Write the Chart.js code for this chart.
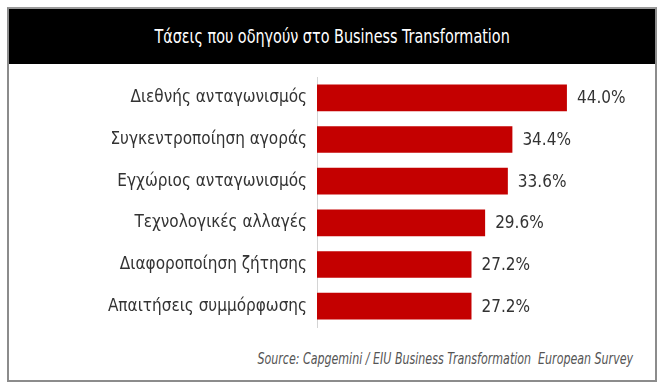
<!DOCTYPE html>
<html>
<head>
<meta charset="utf-8">
<script src="https://cdn.jsdelivr.net/npm/chart.js@4"></script>
<style>
    body { margin: 0; background: #fff; }
    #wrap { position: relative; width: 667px; height: 388px; }
    #frame {
        position: absolute; left: 7px; top: 7px; width: 650px; height: 375px;
        box-sizing: border-box; border: 2px solid #8c8c8c; border-top-color: #9a9a9a;
    }
    #header {
        position: absolute; left: 0; top: 0; right: 0; height: 55px;
        background: #000; color: #fff;
        font: 20px "DejaVu Sans Condensed", sans-serif;
        text-align: center; line-height: 55px;
    }
    #header span { display: inline-block; transform: scaleX(0.8); }
    #source {
        position: absolute; right: 22px; bottom: 12px;
        font: italic 15px "DejaVu Sans Condensed", sans-serif;
        color: #555; white-space: pre;
        transform: scaleX(0.82); transform-origin: right center;
    }
    #chart { position: absolute; left: 0; top: 0; }
</style>
</head>
<body>
<div id="wrap">
    <div id="frame">
        <div id="header"><span>Τάσεις που οδηγούν στο Business Transformation</span></div>
        <div id="source">Source: Capgemini / EIU Business Transformation  European Survey</div>
    </div>
    <canvas id="chart" width="667" height="388"></canvas>
</div>
<script>
// chart data
const categories = [
    'Διεθνής ανταγωνισμός',
    'Συγκεντροποίηση αγοράς',
    'Εγχώριος ανταγωνισμός',
    'Τεχνολογικές αλλαγές',
    'Διαφοροποίηση ζήτησης',
    'Απαιτήσεις συμμόρφωσης'
];
const values = [44.0, 34.4, 33.6, 29.6, 27.2, 27.2];

const FONT = '"DejaVu Sans Condensed", sans-serif';

// draws the percentage next to each bar
const valueLabels = {
    id: 'valueLabels',
    afterDatasetsDraw(chart) {
        const ctx = chart.ctx;
        const meta = chart.getDatasetMeta(0);
        ctx.save();
        ctx.font = '17px ' + FONT;
        ctx.fillStyle = '#333';
        ctx.textAlign = 'left';
        ctx.textBaseline = 'middle';
        meta.data.forEach((bar, i) => {
            ctx.fillText(values[i].toFixed(1) + '%', bar.x + 10, bar.y + 1);
        });
        ctx.restore();
    }
};

new Chart(document.getElementById('chart'), {
    type: 'bar',
    data: {
        labels: categories,
        datasets: [{
            data: values,
            backgroundColor: '#c40000',
            barPercentage: 0.64,
            categoryPercentage: 1
        }]
    },
    options: {
        indexAxis: 'y',
        responsive: false,
        animation: false,
        layout: { padding: { top: 77, bottom: 61, right: 66, left: 0 } },
        plugins: {
            legend: { display: false },
            tooltip: { enabled: false }
        },
        scales: {
            x: {
                display: false,
                min: 0,
                max: 50
            },
            y: {
                afterFit: s => { s.width = 317; },
                grid: { display: false, drawTicks: false },
                border: { display: true, color: '#d4d4d4', width: 1 },
                ticks: {
                    padding: 10,
                    color: '#333',
                    font: { family: FONT, size: 17 }
                }
            }
        }
    },
    plugins: [valueLabels]
});
</script>
</body>
</html>
